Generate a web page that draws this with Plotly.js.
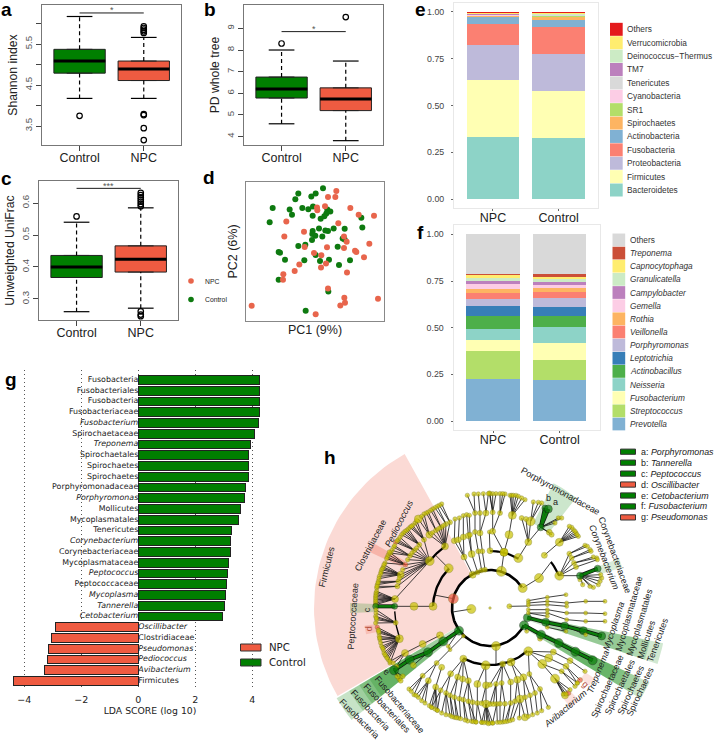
<!DOCTYPE html>
<html><head><meta charset="utf-8">
<script src="https://cdn.plot.ly/plotly-3.0.1.min.js"></script>
<style>html,body{margin:0;padding:0;background:#fff}</style></head>
<body><div id="chart" style="width:715px;height:741px"></div>
<script>
const W=715,H=741,SANS='"Liberation Sans",Arial,sans-serif',VERA='"DejaVu Sans",sans-serif';
const GREEN='#007F00',RED='#EF5B41',NODE='#C9C200';
const groupNames=['Control','NPC'];
// a
const shannonQ1=[4.79,4.61],shannonMedian=[5.085,4.89],shannonQ3=[5.37,5.085],shannonLow=[4.175,4.175],shannonHigh=[6.17,5.66];
const shannonOutC=[3.75],shannonOutN=[5.93,5.89,5.85,5.81,5.77,3.79,3.77,3.45,3.16];
// b
const pdQ1=[5.78,5.2],pdMedian=[6.2,5.74],pdQ3=[6.75,6.25],pdLow=[4.59,3.81],pdHigh=[8,7.49];
const pdOutC=[8.3],pdOutN=[9.52];
// c
const unifracQ1=[.367,.384],unifracMedian=[.4,.424],unifracQ3=[.436,.466],unifracLow=[.26,.271],unifracHigh=[.54,.585];
const unifracOutC=[.558],unifracOutN=[.632,.625,.618,.611,.604,.597,.59,.261,.251,.246];
// d
const controlPC1=[231,157,209,196,148,80,131,169,187,201,138,200,71,244,253,241,235,224,346,349,296,263,246,238,219,200,208,199,229,198,290,296,157,178,275,98,102,117,175,209,222,249,312,279,98,247,179];
const controlPC2=[400,384,384,375,367,341,336,341,337,345,320,317,298,336,330,324,316,308,311,282,278,279,271,273,279,271,257,262,255,244,249,246,226,230,224,208,206,185,183,199,181,185,183,169,124,89,31];
const npcPC1=[271,246,268,237,213,214,313,338,384,277,121,174,115,294,302,370,176,243,294,327,331,204,226,354,240,160,225,146,303,112,111,246,295,297,283,396,17,209];
const npcPC2=[392,374,374,346,342,334,341,320,317,295,300,269,255,255,239,233,223,222,220,212,208,205,198,192,173,170,161,151,146,141,124,98,70,55,47,67,46,20];
// e
const phylaNames=['Bacteroidetes','Firmicutes','Proteobacteria','Fusobacteria','Actinobacteria','Spirochaetes','SR1','Cyanobacteria','Tenericutes','TM7','Deinococcus−Thermus','Verrucomicrobia','Others'];
const phylaColors=['#8DD3C7','#FFFFB3','#BEBADA','#FB8072','#80B1D3','#FDB462','#B3DE69','#FCCDE5','#D9D9D9','#BC80BD','#CCEBC5','#FFED6F','#E41A1C'];
const phylaNPC=[.332,.3055,.1835,.115,.037,.004,.004,.003,.002,.002,.002,.003,.007];
const phylaControl=[.325,.252,.196,.148,.038,.014,.006,.002,.002,.002,.002,.006,.007];
// f
const generaNames=['Prevotella','Streptococcus','Fusobacterium','Neisseria','Actinobacillus','Leptotrichia','Porphyromonas','Veillonella','Rothia','Gemella','Campylobacter','Granulicatella','Capnocytophaga','Treponema','Others'];
const generaColors=['#80B1D3','#B3DE69','#FFFFB3','#8DD3C7','#4DAF4A','#377EB8','#BEBADA','#FB8072','#FDB462','#FCCDE5','#BC80BD','#CCEBC5','#FFED6F','#CB4F38','#D9D9D9'];
const generaNPC=[.225,.15,.057,.061,.071,.05,.038,.036,.019,.025,.018,.014,.018,.005,.213];
const generaControl=[.218,.109,.091,.087,.0575,.05,.0465,.034,.0195,.0165,.017,.013,.012,.016,.213];
const barGroups=['NPC','Control'];
// g
const ldaNames=['Fusobacteria','Fusobacteriales','Fusobacteria','Fusobacteriaceae','<i>Fusobacterium</i>','Spirochaetaceae','<i>Treponema</i>','Spirochaetales','Spirochaetes','Spirochaetes','Porphyromonadaceae','<i>Porphyromonas</i>','Mollicutes','Mycoplasmatales','Tenericutes','<i>Corynebacterium</i>','Corynebacteriaceae','Mycoplasmataceae','<i>Peptococcus</i>','Peptococcaceae','<i>Mycoplasma</i>','<i>Tannerella</i>','<i>Cetobacterium</i>','<i>Oscillibacter</i>','Clostridiaceae','<i>Pseudomonas</i>','<i>Pediococcus</i>','<i>Avibacterium</i>','Firmicutes'];
const ldaScores=[4.26,4.26,4.26,4.25,4.23,4.06,3.92,3.87,3.87,3.87,3.75,3.71,3.59,3.53,3.26,3.22,3.22,3.15,3.13,3.11,3.06,3.03,2.94,-2.92,-3.03,-3.15,-3.18,-3.29,-4.39];
// h : cladogram nodes [x, y, size, colour, children], x/y in cladogram units (centre = 0,0)
const cladeTree=[
 [0,0,2.5,'y'],
 [-56,-3,9,'y',[[-112,-12,0]]],
 // Firmicutes
 [-110,28,10,'r',[[-167,39,0]]],
 [-124,119,9,'y',[[-165,160,0]]],
 [-181,141,9,'y',[
   [-198,205,5,'y',[[-225,255],[-232,248],[-240,242],[-220,262],[-236,245]]],
   [-212,190,5,'y',[[-245,237],[-250,233],[-255,230],[-260,225],[-265,220]]],
   [-227,173,5,'y',[[-275,205],[-283,197,4.5,'r'],[-270,212],[-279,201]]],
   [-240,157,5,'y',[[-294,173],[-289,182],[-298,165],[-286,187]]],
   [-254,130,5,'r',[[-305,160],[-308,153],[-310,148],[-315,135],[-302,168]]],
   [-268,100,7,'y',[[-320,123],[-322,119],[-325,115],[-327,108],[-328,103],[-332,95],[-333,88],[-318,130]]],
   [-275,80,5,'y',[[-335,80],[-338,70],[-336,75]]],
   [-278,65,5,'y',[[-340,60],[-339,65]]],
   [-285,27,7,'y',[[-340,50],[-342,45],[-342,40],[-343,35],[-343,30],[-343,25],[-343,20],[-343,15],[-343,10]]],
   [-220,180,4.5],[-234,165,4.5],[-247,145,4.5],[-262,115,4.5],[-272,90,4.5]]],
 [-135,185,7,'y',[
   [-120,257,5,'y',[[-145,312],[-152,308]]],[-132,252,5,'y',[[-158,305],[-165,301]]],[-147,242,5,'y',[[-172,297],[-178,293]]],[-162,233,5,'y',[[-185,288],[-191,285]]],
   [-182,220,7,'y',[[-198,282],[-215,267,8],[-205,275]]],[-172,226,4.5],[-154,238,4.5],[-140,247,4.5]]],
 [-171,5,8,'y',[[-228,5,8,'y',[[-286,5,6,'g',[[-343,5,6,'g']]]]]]],
 [-283,-44,5,'y',[[-343,-25],[-342,-15],[-340,-35],[-343,-45],[-342,-5],[-341,-30]]],
 [-272,-92,8,'y',[[-338,-58,4.5,'r'],[-335,-66],[-333,-75],[-332,-85],[-330,-95],[-328,-105],[-325,-115],[-320,-125],[-318,-135],[-312,-145],[-305,-155],[-300,-165],[-309,-150],[-322,-120],[-331,-90],[-334,-70],[-315,-140]]],
 [-150,-82,7,'y',[[-202,-108,7,'y',[[-255,-135,7,'y',[[-290,-165],[-280,-175],[-300,-160]]]]]]],
 // Fusobacteria
 [-93,-68,9,'g',[[-140,-100,9,'g',[[-186,-133,9,'g',[[-241,-155,9,'g',[[-288,-187,9,'g',[[-272,-212,5],[-278,-205,5],[-262,-205,5],[-268,-218,5]]]]],[-230,-172,6]]]]],[-125,-115,4,'y',[[-120,-125,4]]]]],
 [-80,-84,4,'y',[[-160,-165,5,'y',[[-202,-203,5,'y',[[-243,-243],[-228,-260],[-236,-250]]],[-185,-218,6,'y',[[-215,-268],[-195,-285],[-222,-262],[-205,-278]]]]]]],
 [-145,-178,6,'y',[[-163,-237,6,'y',[[-175,-298],[-158,-307],[-165,-303],[-182,-293]]]]],
 // lower clade
 [18,-114,9,'y',[[18,-170,0]]],
 [-80,-152,7,'y',[
   [-118,-197,6,'y',[[-132,-255,5,'y',[[-132,-320],[-120,-322],[-145,-315]]],[-148,-247,5,'y',[[-158,-307],[-175,-298]]]]],
   [-97,-207,6,'y',[[-120,-262,5,'y',[[-107,-328],[-114,-326]]],[-107,-268,5,'y',[[-95,-330],[-101,-329]]]]],
   [-82,-213,6,'y',[[-92,-272,5,'y',[[-88,-332]]]]],
   [-65,-218,6,'y',[[-80,-275,5,'y',[[-67,-339],[-75,-336]]],[-65,-280,5,'y',[[-42,-342],[-55,-340]]],[-52,-283,5,'y',[[-50,-341]]]]]]],
 [-13,-172,9,'y',[[-38,-228,7,'y',[[-38,-285,5,'y',[[-42,-342],[-25,-343]]]]],[-12,-232,7,'y',[[-12,-288,8,'y',[[-25,-343],[-10,-343],[0,-345],[8,-345],[-5,-347],[-18,-344]]],[-25,-286,5]]]]],
 [38,-168,6,'y',[[18,-228,5,'y',[[20,-288,5,'y',[[22,-343],[8,-345]]],[0,-288,5],[10,-288,5]]],[0,-230,5],[35,-225,5,'y',[[45,-287,5,'y',[[38,-342]]],[30,-287,5,'y',[[30,-343]]]]],[62,-222,6,'y',[[62,-285,5,'y',[[52,-340],[45,-341]]]]]]],
 [63,-162,8,'y',[[82,-215,7,'y',[[75,-280,5,'y',[[60,-338]]],[90,-273,8,'y',[[68,-335],[105,-328,7],[88,-330]]]]],[100,-208,7,'y',[[105,-268,5,'y',[[115,-325]]],[120,-262,5,'y',[[128,-320]]]]]]],
 [115,-130,9,'y',[
   [118,-198,5,'y',[[135,-255,5,'y',[[142,-315]]],[150,-243,5,'y',[[155,-308],[175,-298]]]]],
   [157,-168,9,'y',[[195,-212,9,'y',[[225,-262,7],[220,-258],[235,-255,5,'r'],[228,-258],[240,-245]]],[215,-190,5,'y',[[255,-235],[262,-225]]]]],
   [176,-150,8,'y',[[228,-175,6,'y',[[270,-216,5,'r'],[262,-225]]]]],
   [190,-132,6,'y',[[240,-158,6,'y',[[285,-190]]]]]]],
 // Spirochaetes and Tenericutes
 [102,-52,9,'g',[[153,-80,9,'g',[[206,-105,9,'g',[[256,-131,9,'g',[[308,-157,9,'g']]]]],[150,-92,5]]],[110,-70,4]]],
 [112,-29,8,'g',[[167,-43,8,'g',[[224,-54,8,'g',[[280,-68,8,'g',[[335,-84,8,'g']]],[287,-80,4]]],[172,-58,4,'y',[[228,-70,4]]]]]]],
 // right fan
 [58,5,5,'y',[[114,6,0]]],
 [115,22,4,'y',[[172,32,4,'y',[[228,40,4]]]]],
 [115,15,4,'y',[[172,20,4,'y',[[230,15,4,'y',[[287,20,4,'y',[[345,20,4]]]]]]]]],
 [115,8,4,'y',[[172,10,4,'y',[[230,5,4]]]]],
 [115,-5,4,'y',[[172,-5,4,'y',[[230,-15,4,'y',[[287,-15,4,'y',[[345,-17,4]]]]]]]]],
 [115,-15,4,'y',[[172,-15,4,'y',[[230,-35,4,'y',[[287,-40,4,'y',[[345,-40,4]]]]]]],[172,-25,4]]],
 // upper right
 [34,110,10,'y',[[42,167,8]]],
 [0,172,6,'y',[[-2,228,4]]],
 [42,167,8,'y',[[57,220,8,'y',[[67,278,8,'y',[[60,338],[65,338],[70,338],[78,338],[85,335],[95,330],[105,325]]]]],[8,230,6,'y',[[8,287,5,'y',[[0,343],[8,343],[18,343],[-2,345]]],[30,285,5,'y',[[30,343],[45,342],[38,343]]]]]]],
 [85,150,9,'y',[[115,198,7,'y',[[122,260,9,'y',[[130,318],[145,317],[155,315]]],[95,270,5],[108,267,5],[152,242,7,'g',[[165,300,6,'g'],[175,297,8,'g'],[178,227,6],[185,220,5],[205,270],[215,270],[195,255]]]]]]],
 [98,60,9,'y',[[147,90,9,'y',[[185,140,0]]]]],
 [163,158,6,'y',[[208,197,8,'y',[[265,215],[258,225],[250,235],[245,242],[238,245],[255,230],[261,220]]]]],
 [208,97,9,'y',[
   [238,163,5,'y',[[285,188],[292,185]]],[245,150,5,'y',[[300,175],[303,170]]],[252,135,5,'y',[[310,153],[320,150]]],[258,123,5,'y',[[322,145]]],
   [270,97,7,'g',[[323,118,7,'g'],[278,70],[270,85],[325,70],[330,80],[335,90],[332,100],[310,62],[300,65]]]]],
 // upper clade
 [-52,100,7,'y',[[-78,153,6,'y',[[-107,202,6,'y',[[-105,267]]],[-95,205,6,'y',[[-92,270]]],[-80,213,6,'y',[[-80,277]]]]]]],
 [-37,107,5,'y',[[-55,162,7,'y',[[-65,217,6,'y',[[-70,280]]],[-60,220,5,'y',[[-62,278]]]]]]],
 [-25,113,5,'y',[[-35,170,5,'y',[[-45,228,5,'y',[[-45,285,5,'y',[[-48,342],[-68,338]]]]]]]]],
 [-15,115,5,'y',[[-23,170,5,'y',[[-30,225,6,'y',[[-30,285,5,'y',[[-35,342]]],[-12,285,6,'y',[[-20,343],[-5,343]]]]]]]]]
];
// arcs [radius, from angle, to angle, width]
const cladeArcs=[[114,33,333,2.6],[171,136,178,2.4],[229,126,142,2.2],[171,242,311,2.4],[171,60,90,2.2],[229,25,37,2.2],[286,182,199,1.4]];
// highlighted sectors [inner, outer, from angle, to angle, colour]
const cladeSectors=[[114,528,119,210,'#FBDAD5'],[114,534,210.5,219,'rgba(0,128,0,.22)'],[171,490,210.5,219,'rgba(0,128,0,.2)'],[229,455,210.5,219,'rgba(0,128,0,.2)'],[286,420,210.5,219,'rgba(0,128,0,.2)'],
 [114,528,329,335,'rgba(0,128,0,.2)'],[171,490,329,335,'rgba(0,128,0,.2)'],[229,450,329,335,'rgba(0,128,0,.2)'],[286,420,329,335,'rgba(0,128,0,.2)'],
 [114,530,341.5,348.5,'rgba(0,128,0,.18)'],[171,490,341.5,348.5,'rgba(0,128,0,.15)'],[229,450,341.5,348.5,'rgba(0,128,0,.15)'],
 [285,420,52,63,'rgba(0,128,0,.2)'],[343,415,17,21,'rgba(0,128,0,.15)'],[343,420,178,182,'rgba(0,128,0,.2)'],[290,400,151,155,'rgba(240,110,90,.35)'],[350,385,309,314,'rgba(240,110,90,.2)'],[345,378,322,326,'rgba(240,110,90,.2)'],[343,380,188,192,'rgba(240,110,90,.25)']];
// rotated clade labels [text, x, y, angle]
const cladeLabels=[['Firmicutes',-490,123,-76],['Peptococcaceae',-410,-25,-86],['Clostridiaceae',-360,187,-62],['<i>Pediococcus</i>',-272,255,-63],['Porphyromonadaceae',210,350,29],['Corynebacteriaceae',375,160,70],['<i>Corynebacterium</i>',342,153,69],
 ['<i>Mycoplasma</i>',372,-55,-72],['Mycoplasmataceae',418,-15,-74],['Mycoplasmatales',450,-43,-73],['Mollicutes',468,-95,-72],['Tenericutes',502,-95,-70],['<i>Treponema</i>',325,-193,-68],['Spirochaetaceae',352,-233,-66],['Spirochaetales',390,-237,-65],['Spirochaetes',422,-245,-66],['Spirochaetes',450,-252,-65],['<i>Avibacterium</i>',225,-303,-40],
 ['Fusobacteria',-392,-334,45],['Fusobacteria',-360,-307,47],['Fusobacteriales',-310,-300,47],['Fusobacteriaceae',-270,-290,50]];
const cladeLetters=[['a',195,317,0,'#222'],['b',175,330,0,'#222'],['c',-370,-5,-90,'#333'],['d',-362,-63,-90,'#B5503E'],['e',-310,-192,40,'#222'],['g',285,-228,45,'#B5503E']];
const cladeLegendNames=['<i>Porphyromonas</i>','<i>Tannerella</i>','<i>Peptococcus</i>','<i>Oscillibacter</i>','<i>Cetobacterium</i>','<i>Fusobacterium</i>','<i>Pseudomonas</i>'];
const cladeLegendKeys=['a','b','c','d','e','f','g'];
const cladeLegendColors=[GREEN,GREEN,GREEN,RED,GREEN,GREEN,RED];

const fx=p=>p/W, fy=p=>1-p/H;
const traces=[],shapes=[],annotations=[],layout={};
function axes(n,x0,x1,y0,y1,xo,yo){
  const s=n===1?'':n;
  layout['xaxis'+s]=Object.assign({domain:[fx(x0),fx(x1)],anchor:'y'+s,fixedrange:true,zeroline:false,showgrid:false},xo);
  layout['yaxis'+s]=Object.assign({domain:[fy(y1),fy(y0)],anchor:'x'+s,fixedrange:true,zeroline:false,showgrid:false},yo);
  return ['x'+s,'y'+s];
}
function note(text,x,y,size,opt){annotations.push(Object.assign({text,x,y,xref:'paper',yref:'paper',showarrow:false,font:{family:SANS,size,color:'#222'},xanchor:'center',yanchor:'middle'},opt||{}));}
function label(t,x,y){note('<b>'+t+'</b>',fx(x),fy(y),19,{font:{family:SANS,size:19,color:'#000'}});}
function line(xa,ya,x,y,width,dash){traces.push({type:'scatter',mode:'lines',x,y,xaxis:xa,yaxis:ya,line:{color:'#000',width,dash:dash||'solid'},hoverinfo:'skip'});}

function boxPanel(n,box,xr,yr,ytv,ytt,title,stand,q1,med,q3,lo,hi,outC,outN,starY,starTxt,starTextY){
  const rAxis={range:xr,tickvals:[1,2],ticktext:groupNames,ticks:'outside',ticklen:5,tickcolor:'#444',showline:true,mirror:true,linecolor:'#777',linewidth:1.2,ticklabelstandoff:-4,tickfont:{family:SANS,size:12.5,color:'#222'}};
  const lAxis={range:yr,tickvals:ytv,ticktext:ytt,ticks:'outside',ticklen:5,tickcolor:'#444',tickangle:-90,showline:true,mirror:true,linecolor:'#777',linewidth:1.2,tickfont:{family:SANS,size:9.6,color:'#555'},title:{text:title,font:{family:SANS,size:12.2,color:'#222'},standoff:stand}};
  const [xa,ya]=axes(n,box[0],box[1],box[2],box[3],rAxis,lAxis);
  [0,1].forEach(i=>{
    const c=i+1;
    line(xa,ya,[c,c],[q3[i],hi[i]],1.2,'4px,3px');
    line(xa,ya,[c,c],[lo[i],q1[i]],1.2,'4px,3px');
    line(xa,ya,[c-.2,c+.2],[hi[i],hi[i]],1.2);
    line(xa,ya,[c-.2,c+.2],[lo[i],lo[i]],1.2);
    traces.push({type:'box',x:[c],q1:[q1[i]],median:[med[i]],q3:[q3[i]],lowerfence:[q1[i]],upperfence:[q3[i]],width:.8,xaxis:xa,yaxis:ya,fillcolor:i?RED:GREEN,line:{color:'#222',width:1},boxpoints:false,hoverinfo:'skip'});
    line(xa,ya,[c-.4,c+.4],[med[i],med[i]],3);
  });
  [[1,outC],[2,outN]].forEach(([c,v])=>traces.push({type:'scatter',mode:'markers',x:v.map(()=>c),y:v,xaxis:xa,yaxis:ya,marker:{symbol:'circle-open',size:5.5,color:'#000',line:{width:1.2,color:'#000'}},hoverinfo:'skip'}));
  line(xa,ya,[1,2],[starY,starY],.9);
  annotations.push({text:starTxt,x:1.5,y:starTextY,xref:xa,yref:ya,showarrow:false,font:{family:SANS,size:9,color:'#555'}});
}
boxPanel(1,[42,181,5,145],[.415,2.58],[3.04,6.45],[3.5,4,4.5,5,5.5,6],['3.5','','4.5','','5.5',''],'Shannon index',2,shannonQ1,shannonMedian,shannonQ3,shannonLow,shannonHigh,shannonOutC,shannonOutN,6.256,'*',6.32);
boxPanel(2,[244,383,5,145],[.415,2.58],[3.61,10.08],[4,5,6,7,8,9],['4','5','6','7','8','9'],'PD whole tree',2,pdQ1,pdMedian,pdQ3,pdLow,pdHigh,pdOutC,pdOutN,8.85,'*',8.98);
boxPanel(3,[39,178,181,320],[.415,2.58],[.234,.669],[.3,.4,.5,.6],['0.3','0.4','0.5','0.6'],'Unweighted UniFrac',2,unifracQ1,unifracMedian,unifracQ3,unifracLow,unifracHigh,unifracOutC,unifracOutN,.646,'***',.652);

// d
{
  const [xa,ya]=axes(4,246,384,182,321,{range:[0,414],showline:true,mirror:true,linecolor:'#888',linewidth:1.2,showticklabels:false,ticks:'',title:{text:'PC1 (9%)',font:{family:SANS,size:12.5,color:'#222'},standoff:4}},{range:[0,419],showline:true,mirror:true,linecolor:'#888',linewidth:1.2,showticklabels:false,ticks:'',title:{text:'PC2 (6%)',font:{family:SANS,size:12.5,color:'#222'},standoff:4}});
  traces.push({type:'scatter',mode:'markers',x:controlPC1,y:controlPC2,xaxis:xa,yaxis:ya,marker:{size:6,color:'#0E7A10'},hoverinfo:'skip'});
  traces.push({type:'scatter',mode:'markers',x:npcPC1,y:npcPC2,xaxis:xa,yaxis:ya,marker:{size:6,color:'#E8654C'},hoverinfo:'skip'});
  [['NPC',281,'#E8654C'],['Control',299.5,'#0E7A10']].forEach(([t,py,c])=>{
    shapes.push({type:'circle',xref:'paper',yref:'paper',x0:fx(188.2),x1:fx(193.8),y0:fy(py+2.8),y1:fy(py-2.8),fillcolor:c,line:{width:0}});
    note(t,fx(203),fy(py),6.8,{xanchor:'left'});
  });
}
// e, f
function stackPanel(n,box,yr,names,colors,npc,ctl,legend){
  const tick={family:SANS,size:8.8,color:'#444'};
  const [xa,ya]=axes(n,box[0],box[1],box[2],box[3],{range:[.406,2.6],tickvals:[1,2],ticktext:barGroups,ticks:'outside',ticklen:2,tickcolor:'#666',showline:true,mirror:true,linecolor:'#E8E8E8',linewidth:1,ticklabelstandoff:-4,tickfont:{family:SANS,size:12.5,color:'#222'}},
   {range:yr,tickvals:[0,.25,.5,.75,1],ticktext:['0.00','0.25','0.50','0.75','1.00'],ticks:'outside',ticklen:2,tickcolor:'#666',showline:true,mirror:true,linecolor:'#E8E8E8',linewidth:1,ticklabelstandoff:5,tickfont:tick});
  names.forEach((nm,i)=>{
    traces.push({type:'bar',x:[1,2],y:[npc[i],ctl[i]],width:.8,name:nm,marker:{color:colors[i],line:{width:0}},xaxis:xa,yaxis:ya,hoverinfo:'skip'});
    const py=legend.y0-i*legend.step, it=legend.italic&&nm!=='Others';
    shapes.push({type:'rect',xref:'paper',yref:'paper',x0:fx(legend.x),x1:fx(legend.x+12.7),y0:fy(py+legend.step/2-.2),y1:fy(py-legend.step/2+.2),fillcolor:colors[i],line:{width:0}});
    note(it?'<i>'+nm+'</i>':nm,fx(legend.x+15),fy(py),8.3,{xanchor:'left',font:{family:SANS,size:8.3,color:'#333'}});
  });
}
stackPanel(5,[454,598,3,208],[-.048,1.048],phylaNames,phylaColors,phylaNPC,phylaControl,{x:610,y0:190,step:13.39,italic:false});
stackPanel(6,[453.5,599.5,225,430],[-.048,1.05],generaNames,generaColors,generaNPC,generaControl,{x:612.5,y0:424,step:13.15,italic:true});

// g
{
  const [xa,ya]=axes(7,0,300,370,690,{range:[-4.853,5.673],tickvals:[-4,-2,0,2,4],showgrid:true,griddash:'1px,3px',gridcolor:'#555',gridwidth:1,ticks:'',ticklabelstandoff:2,tickfont:{family:VERA,size:9.5,color:'#222'},title:{text:'LDA SCORE (log 10)',font:{family:VERA,size:9.3,color:'#222'},standoff:3}},{range:[28.84,-.93],showticklabels:false,ticks:''});
  const rows=ldaScores.map((_,i)=>i);
  traces.push({type:'bar',orientation:'h',x:ldaScores,y:rows,width:.8,xaxis:xa,yaxis:ya,marker:{color:ldaScores.map(v=>v>0?GREEN:RED),line:{color:'#222',width:1}},hoverinfo:'skip'});
  traces.push({type:'scatter',mode:'text',x:rows.map(()=>0),y:rows,text:ldaNames,textposition:ldaScores.map(v=>v>0?'middle left':'middle right'),textfont:{family:VERA,size:7.9,color:'#222'},xaxis:xa,yaxis:ya,hoverinfo:'skip'});
  [['NPC',647.5,RED],['Control',662.5,GREEN]].forEach(([t,py,c])=>{
    shapes.push({type:'rect',xref:'paper',yref:'paper',x0:fx(240.5),x1:fx(261),y0:fy(py+3.5),y1:fy(py-3.5),fillcolor:c,line:{color:'#333',width:1}});
    note(t,fx(267),fy(py),10.2,{xanchor:'left',font:{family:VERA,size:10.2,color:'#222'}});
  });
}
// h
{
  const [xa,ya]=axes(8,300,715,445,741,{range:[-570,675],visible:false},{range:[-399,489],visible:false});
  const arc=(r,a0,a1)=>{const p=[];const k=Math.max(2,Math.ceil(Math.abs(a1-a0)/2));for(let i=0;i<=k;i++){const a=(a0+(a1-a0)*i/k)*Math.PI/180;p.push([r*Math.cos(a),r*Math.sin(a)]);}return p;};
  cladeSectors.forEach(([r0,r1,a0,a1,c])=>{
    const p=arc(r1,a0,a1).concat(arc(r0,a1,a0));
    traces.push({type:'scatter',mode:'lines',x:p.map(q=>q[0]).concat(p[0][0]),y:p.map(q=>q[1]).concat(p[0][1]),fill:'toself',fillcolor:c,line:{width:0},xaxis:xa,yaxis:ya,hoverinfo:'skip'});
  });
  const ex=[],ey=[],gx=[],gy=[],nx=[],ny=[],ns=[],nc=[],nl=[];
  const walk=(n)=>{
    const [x,y,s=4.4,c='y',kids=[]]=n;
    kids.forEach(k=>{
      const kc=k[3]||'y';
      if(c==='g'&&kc==='g'){gx.push(x,k[0],null);gy.push(y,k[1],null);}
      else{ex.push(x,k[0],null);ey.push(y,k[1],null);}
      walk(k);
    });
    if(s>0){nx.push(x);ny.push(y);ns.push(s);nc.push(c==='g'?'#0B7D0B':c==='r'?RED:NODE);nl.push(c==='g'?'#111':'#77751a');}
  };
  cladeTree.forEach(walk);
  cladeArcs.forEach(([r,a0,a1,w])=>{const p=arc(r,a0,a1);traces.push({type:'scatter',mode:'lines',x:p.map(q=>q[0]),y:p.map(q=>q[1]),line:{color:'#000',width:w},xaxis:xa,yaxis:ya,hoverinfo:'skip'});});
  traces.push({type:'scatter',mode:'lines',x:ex,y:ey,line:{color:'#111',width:.8},xaxis:xa,yaxis:ya,hoverinfo:'skip'});
  traces.push({type:'scatter',mode:'lines',x:gx,y:gy,line:{color:'#111',width:4},xaxis:xa,yaxis:ya,hoverinfo:'skip'});
  traces.push({type:'scatter',mode:'lines',x:gx,y:gy,line:{color:'#0B7D0B',width:2.6},xaxis:xa,yaxis:ya,hoverinfo:'skip'});
  traces.push({type:'scatter',mode:'markers',x:nx,y:ny,marker:{size:ns,color:nc,line:{color:nl,width:.5}},xaxis:xa,yaxis:ya,hoverinfo:'skip'});
  cladeLabels.forEach(([t,x,y,a])=>annotations.push({text:t,x,y,xref:xa,yref:ya,textangle:a,showarrow:false,font:{family:SANS,size:9,color:'#222'}}));
  cladeLetters.forEach(([t,x,y,a,c])=>annotations.push({text:t,x,y,xref:xa,yref:ya,textangle:a,showarrow:false,font:{family:SANS,size:9,color:c}}));
  cladeLegendNames.forEach((nm,i)=>{
    const py=451.7+i*10.95;
    shapes.push({type:'rect',xref:'paper',yref:'paper',x0:fx(620.5),x1:fx(635.5),y0:fy(py+2.6),y1:fy(py-2.6),fillcolor:cladeLegendColors[i],line:{color:'#333',width:1}});
    note(cladeLegendKeys[i]+': '+nm,fx(638.5),fy(py),8.9,{xanchor:'left'});
  });
}
label('a',6,9);label('b',210,9);label('c',6,178);label('d',209,177);label('e',420,9);label('f',420,232);label('g',11,379);label('h',330,457);

Object.assign(layout,{width:W,height:H,margin:{l:0,r:0,t:0,b:0},autosize:false,paper_bgcolor:'#fff',plot_bgcolor:'#fff',showlegend:false,barmode:'stack',boxmode:'overlay',shapes,annotations});
Plotly.newPlot('chart',traces,layout,{displayModeBar:false,staticPlot:true});
</script></body></html>
